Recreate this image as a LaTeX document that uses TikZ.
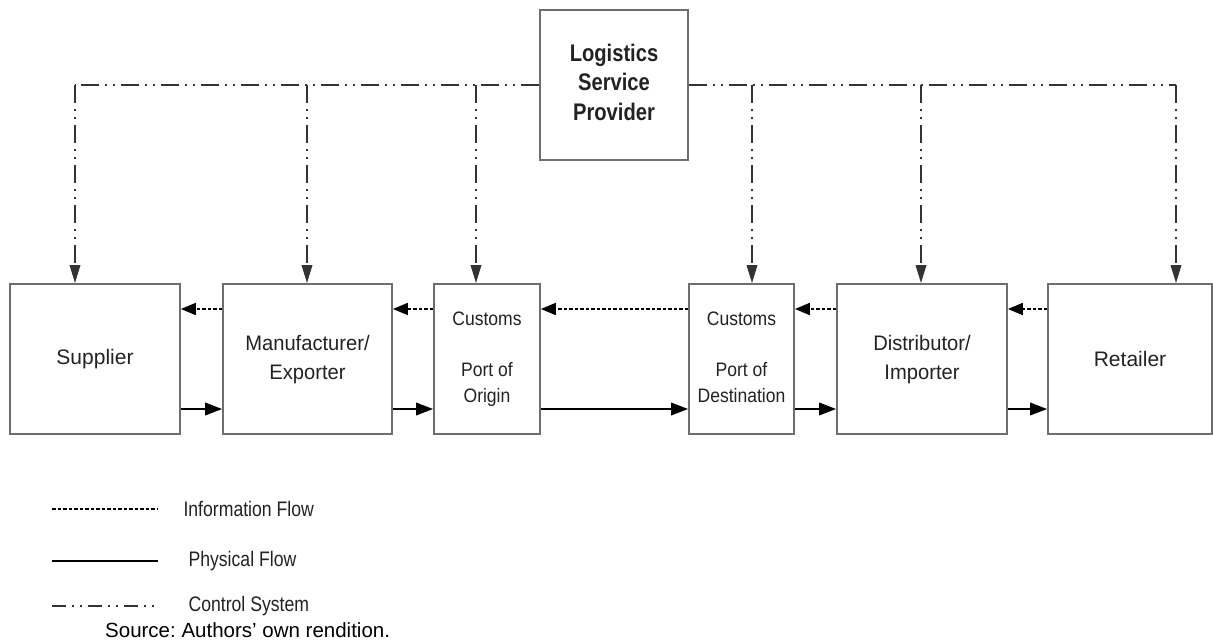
\documentclass[tikz,border=0pt]{standalone}
\usepackage{fontspec}
\setmainfont{Liberation Sans}
\usepackage{graphicx}
\usetikzlibrary{arrows.meta}
\frenchspacing
\newcommand\cx[2]{\scalebox{#1}[1]{#2}}
\definecolor{boxgray}{HTML}{6E6E6E}
\definecolor{txt}{HTML}{222222}
\definecolor{ctrlc}{HTML}{333333}
\tikzset{
  blk/.style={draw=boxgray, line width=1.8pt, rectangle, minimum height=150pt, inner sep=0pt, text=txt},
  info/.style={draw=black, line width=1.8pt, dash pattern=on 3.5pt off 2pt},
  phys/.style={draw=black, line width=2pt},
  ctrl/.style={draw=ctrlc, line width=1.8pt, dash pattern=on 18pt off 6pt on 2pt off 6pt on 2pt off 6pt},
  ptip/.style={-{Triangle[length=17pt,width=12.5pt]}},
  itip/.style={-{Triangle[length=15pt,width=12pt]}},
  ctip/.style={-{Triangle[length=18pt,width=10.5pt]}},
  mainfont/.style={font=\fontsize{21}{29}\selectfont},
  legtext/.style={anchor=west, text=txt, font=\fontsize{21}{25}\selectfont}
}
\begin{document}
\begin{tikzpicture}[x=1pt,y=-1pt]
\useasboundingbox (0,0) rectangle (1213,640);
% boxes
\node[blk, minimum width=148pt, font=\fontsize{24}{29.5}\selectfont\bfseries] (lsp) at (614,85)
  {\cx{0.84}{\begin{tabular}{@{}c@{}}Logistics\\Service\\Provider\end{tabular}}};
\node[blk, minimum width=170pt, mainfont] (sup) at (95,359) {Supplier};
\node[blk, minimum width=169pt, mainfont] (man) at (307.5,359)
  {\cx{0.96}{\begin{tabular}{@{}c@{}}Manufacturer/\\Exporter\end{tabular}}};
\node[blk, minimum width=106pt, font=\fontsize{19.5}{25.5}\selectfont] (co) at (487,359)
  {\cx{0.9}{\begin{tabular}{@{}c@{}}Customs\\ \\Port of\\Origin\end{tabular}}};
\node[blk, minimum width=105pt, font=\fontsize{19.5}{25.5}\selectfont] (cd) at (741.5,359)
  {\cx{0.9}{\begin{tabular}{@{}c@{}}Customs\\ \\Port of\\Destination\end{tabular}}};
\node[blk, minimum width=170pt, mainfont] (dis) at (922,359)
  {\cx{0.96}{\begin{tabular}{@{}c@{}}Distributor/\\Importer\end{tabular}}};
\node[blk, minimum width=164pt, mainfont] (ret) at (1130,359) {Retailer};
% control system
\coordinate (c1) at (75,85);
\coordinate (c2) at (307,85);
\coordinate (c3) at (476,85);
\coordinate (c4) at (752,85);
\coordinate (c5) at (921,85);
\coordinate (c6) at (1176,85);
\draw[ctrl] (lsp.west) -- (c1);
\draw[ctrl] (lsp.east) -- (c6);
\draw[ctrl,ctip] (c1) -- (c1 |- sup.north);
\draw[ctrl,ctip] (c2) -- (c2 |- man.north);
\draw[ctrl,ctip] (c3) -- (c3 |- co.north);
\draw[ctrl,ctip] (c4) -- (c4 |- cd.north);
\draw[ctrl,ctip] (c5) -- (c5 |- dis.north);
\draw[ctrl,ctip] (c6) -- (c6 |- ret.north);
% information flow
\draw[info,itip] ([yshift=50pt]man.west) -- ([yshift=50pt]sup.east);
\draw[info,itip] ([yshift=50pt]co.west) -- ([yshift=50pt]man.east);
\draw[info,itip] ([yshift=50pt]cd.west) -- ([yshift=50pt]co.east);
\draw[info,itip] ([yshift=50pt]dis.west) -- ([yshift=50pt]cd.east);
\draw[info,itip] ([yshift=50pt]ret.west) -- ([yshift=50pt]dis.east);
% physical flow
\draw[phys,ptip] ([yshift=-50pt]sup.east) -- ([yshift=-50pt]man.west);
\draw[phys,ptip] ([yshift=-50pt]man.east) -- ([yshift=-50pt]co.west);
\draw[phys,ptip] ([yshift=-50pt]co.east) -- ([yshift=-50pt]cd.west);
\draw[phys,ptip] ([yshift=-50pt]cd.east) -- ([yshift=-50pt]dis.west);
\draw[phys,ptip] ([yshift=-50pt]dis.east) -- ([yshift=-50pt]ret.west);
% legend
\coordinate (l1a) at (52,509); \coordinate (l1b) at (158,509);
\coordinate (l2a) at (52,561); \coordinate (l2b) at (158,561);
\coordinate (l3a) at (52,606); \coordinate (l3b) at (158,606);
\draw[info] (l1a) -- (l1b);
\draw[phys] (l2a) -- (l2b);
\draw[ctrl, dash pattern=on 14pt off 6pt on 2pt off 6pt on 2pt off 6pt] (l3a) -- (l3b);
\node[legtext] (t1) at (180,509) {\cx{0.84}{Information Flow}};
\node[legtext] (t2) at (185,561) {\cx{0.84}{Physical Flow}};
\node[legtext] (t3) at (185,606) {\cx{0.84}{Control System}};
\node[anchor=base west, inner sep=0pt, font=\fontsize{20.5}{24}\selectfont, text=black] (src) at (105,637) {Source: Authors’ own rendition.};
\end{tikzpicture}
\end{document}
